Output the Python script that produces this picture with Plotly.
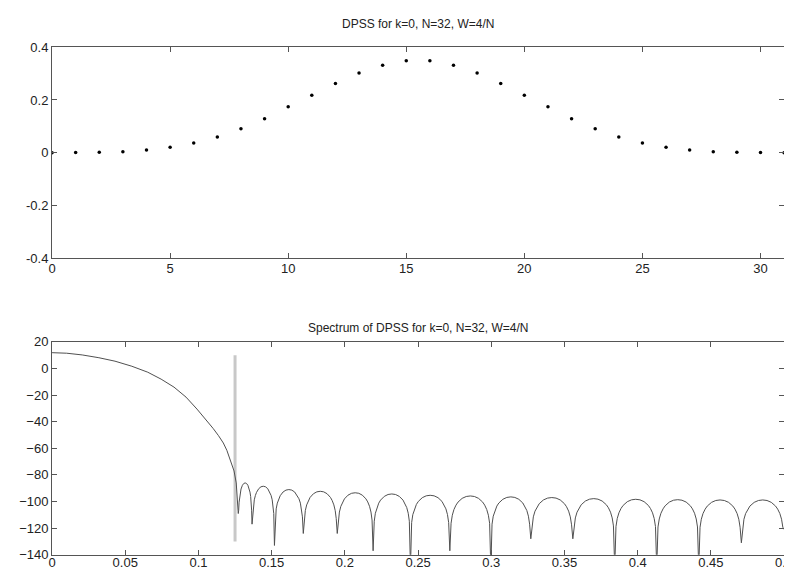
import plotly.graph_objects as go

# ---- Top panel: DPSS samples ----
dpss_n = list(range(32))
dpss_val = [0.0003, 0.001, 0.002, 0.004, 0.011, 0.021, 0.037, 0.060, 0.091, 0.129,
            0.174, 0.218, 0.262, 0.302, 0.331, 0.348, 0.348, 0.331, 0.302, 0.262,
            0.218, 0.174, 0.129, 0.091, 0.060, 0.037, 0.021, 0.011, 0.004, 0.002,
            0.001, 0.0003]
top_xticks = [0, 5, 10, 15, 20, 25, 30]
top_yticks = [-0.4, -0.2, 0, 0.2, 0.4]
top_yticktext = ["-0.4", "-0.2", "0", "0.2", "0.4"]

# ---- Bottom panel: spectrum readings ----
# main lobe (frequency, dB)
ml_f = [0.0, 0.01, 0.0206, 0.032, 0.043, 0.0545, 0.0654, 0.0745, 0.0833, 0.0915,
        0.099, 0.105, 0.110, 0.1137, 0.117, 0.1194, 0.1214, 0.1230, 0.1243, 0.1258]
ml_db = [11.9, 11.5, 10.2, 8.1, 5.5, 1.7, -2.8, -8.0, -14.0, -21.5,
         -30.5, -38.0, -45.0, -50.5, -56.0, -61.5, -67.5, -72.0, -77.0, -86.0]
# sidelobe nulls (last entry: value at the f=0.5 edge)
null_f = [0.1272, 0.1366, 0.1519, 0.1716, 0.1948, 0.2193, 0.2448, 0.2717, 0.2997,
          0.3270, 0.3557, 0.3843, 0.4130, 0.4417, 0.4708, 0.5]
null_db = [-109, -117, -133, -124, -124, -137, -150, -137, -150,
           -128, -128, -150, -150, -150, -131, -121]
# sidelobe peak levels (one per lobe between consecutive nulls)
peak_db = [-86.0, -88.5, -91.0, -92.3, -93.4, -94.3, -95.3, -95.8, -96.5,
           -97.0, -97.8, -98.3, -98.6, -98.8, -98.8]
# typical lobe profile: position within lobe, dB below peak
lobe_frac = [0.03, 0.06, 0.1, 0.15, 0.2, 0.3, 0.4, 0.5, 0.6, 0.7, 0.8, 0.85, 0.9, 0.94, 0.97]
lobe_drop = [-20.5, -14.5, -10.2, -6.9, -4.6, -1.8, -0.4, 0.0, -0.4, -1.8, -4.6, -6.9, -10.2, -14.5, -20.5]

# band-edge marker
cutoff_f = [0.125, 0.125]
cutoff_db = [10, -130]

bot_xticks = [0, 0.05, 0.1, 0.15, 0.2, 0.25, 0.3, 0.35, 0.4, 0.45, 0.5]
bot_xticktext = ["0", "0.05", "0.1", "0.15", "0.2", "0.25", "0.3", "0.35", "0.4", "0.45", "0.5"]
bot_yticks = [-140, -120, -100, -80, -60, -40, -20, 0, 20]

title_top = "DPSS for k=0, N=32, W=4/N"
title_bot = "Spectrum of DPSS for k=0, N=32, W=4/N"

# ---- assemble spectrum curve ----
spec_f = list(ml_f)
spec_db = list(ml_db)
for i in range(len(peak_db)):
    f0, f1 = null_f[i], null_f[i + 1]
    spec_f.append(f0)
    spec_db.append(null_db[i])
    for fr, dr in zip(lobe_frac, lobe_drop):
        spec_f.append(f0 + fr * (f1 - f0))
        spec_db.append(peak_db[i] + dr)
spec_f.append(null_f[-1])
spec_db.append(null_db[-1])

W, H = 792, 572
xdom = [40.7 / W, 785.0 / W]
top_dom = [1 - 250.0 / H, 1 - 33.0 / H]
bot_dom = [1 - 554.3 / H, 1 - 335.7 / H]

FONT = "Liberation Sans, Arial, Helvetica, sans-serif"
axcol = "#555555"

fig = go.Figure()
fig.add_trace(go.Scatter(x=dpss_n, y=dpss_val, mode="markers",
                         marker=dict(color="black", size=3.5),
                         xaxis="x", yaxis="y", showlegend=False))
fig.add_trace(go.Scatter(x=cutoff_f, y=cutoff_db, mode="lines",
                         line=dict(color="#c8c8c8", width=3),
                         xaxis="x2", yaxis="y2", showlegend=False))
fig.add_trace(go.Scatter(x=spec_f, y=spec_db, mode="lines",
                         line=dict(color="#505050", width=1),
                         xaxis="x2", yaxis="y2", showlegend=False))

common = dict(showline=True, linecolor=axcol, linewidth=1, mirror="ticks",
              ticks="inside", ticklen=5, tickcolor=axcol, tickwidth=1,
              showgrid=False, zeroline=False, ticklabeloverflow="allow",
              tickfont=dict(family=FONT, size=13, color="#222222"))

fig.update_layout(
    width=W, height=H,
    margin=dict(l=0, r=0, t=0, b=0),
    paper_bgcolor="white", plot_bgcolor="white",
    showlegend=False,
    xaxis=dict(domain=xdom, anchor="y", range=[0, 31], tickvals=top_xticks,
               ticklabelstandoff=-2, **common),
    yaxis=dict(domain=top_dom, anchor="x", range=[-0.4, 0.4], tickvals=top_yticks,
               ticktext=top_yticktext, **common),
    xaxis2=dict(domain=xdom, anchor="y2", range=[0, 0.5], tickvals=bot_xticks,
                ticktext=bot_xticktext, ticklabelstandoff=-4, **common),
    yaxis2=dict(domain=bot_dom, anchor="x2", range=[-140, 20], tickvals=bot_yticks, **common),
    annotations=[
        dict(text=title_top, x=(xdom[0] + xdom[1]) / 2, y=1 - 9.0 / H, xref="paper", yref="paper",
             showarrow=False, xanchor="center", yanchor="middle",
             font=dict(family=FONT, size=12, color="#222222")),
        dict(text=title_bot, x=(xdom[0] + xdom[1]) / 2, y=1 - 321.0 / H, xref="paper", yref="paper",
             showarrow=False, xanchor="center", yanchor="middle",
             font=dict(family=FONT, size=12, color="#222222")),
    ],
)

fig.write_html("out.html")
